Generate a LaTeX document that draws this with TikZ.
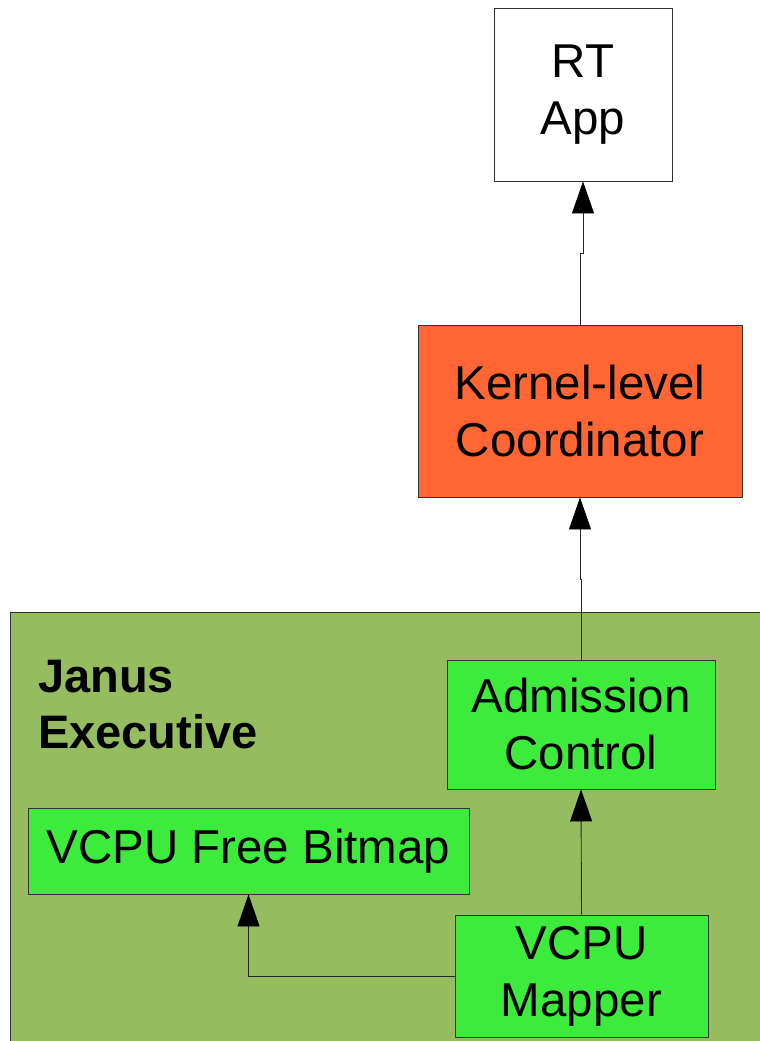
\documentclass[tikz,border=0pt]{standalone}
\usepackage{fontspec}
\setmainfont{Liberation Sans}
\usetikzlibrary{arrows.meta}
\definecolor{korange}{HTML}{FF6633}
\definecolor{bggreen}{HTML}{95BD5F}
\definecolor{bgreen}{HTML}{3DEB3D}
\definecolor{edge}{HTML}{333333}
\tikzset{
  box/.style={draw=edge, line width=0.9pt, align=center, inner sep=0pt,
    font=\fontsize{47.5}{57}\selectfont},
  conn/.style={draw=black!85, line width=0.9pt, -{Triangle[width=22pt,length=32pt,color=black]}}
}
\begin{document}
\begin{tikzpicture}[x=1pt,y=-1pt]
\useasboundingbox (0,0) rectangle (760,1041);
\clip (0,0) rectangle (760,1041);
\fill[white] (0,0) rectangle (760,1041);
\draw[draw=edge, line width=0.9pt, fill=bggreen] (10,612) rectangle (780,1060);
\node[anchor=base west, font=\bfseries\fontsize{47}{56}\selectfont, align=left, inner sep=0pt] (janus) at (38,748) {Janus\\Executive};
\node[box, fill=white, minimum width=178pt, minimum height=173pt] (rt) at (583,94.5) {RT\\App};
\node[box, fill=korange, minimum width=324pt, minimum height=172pt] (coord) at (580,411) {Kernel-level\\Coordinator};
\node[box, fill=bgreen, minimum width=268pt, minimum height=129pt] (adm) at (581,724.5) {Admission\\Control};
\node[box, fill=bgreen, minimum width=441pt, minimum height=86pt] (bitmap) at (248.5,851) {VCPU Free Bitmap};
\node[box, fill=bgreen, minimum width=253pt, minimum height=122pt] (mapper) at (581.5,976) {VCPU\\Mapper};
\coordinate (j1) at (580,253);
\coordinate (j2) at (581,579);
\draw[conn] (coord.north) -- (j1) -| (rt.south);
\draw[conn] (adm.north) -- (j2) -| (coord.south);
\draw[conn] (mapper.north) -- (adm.south);
\draw[conn] (mapper.west) -| (bitmap.south);
\end{tikzpicture}
\end{document}
